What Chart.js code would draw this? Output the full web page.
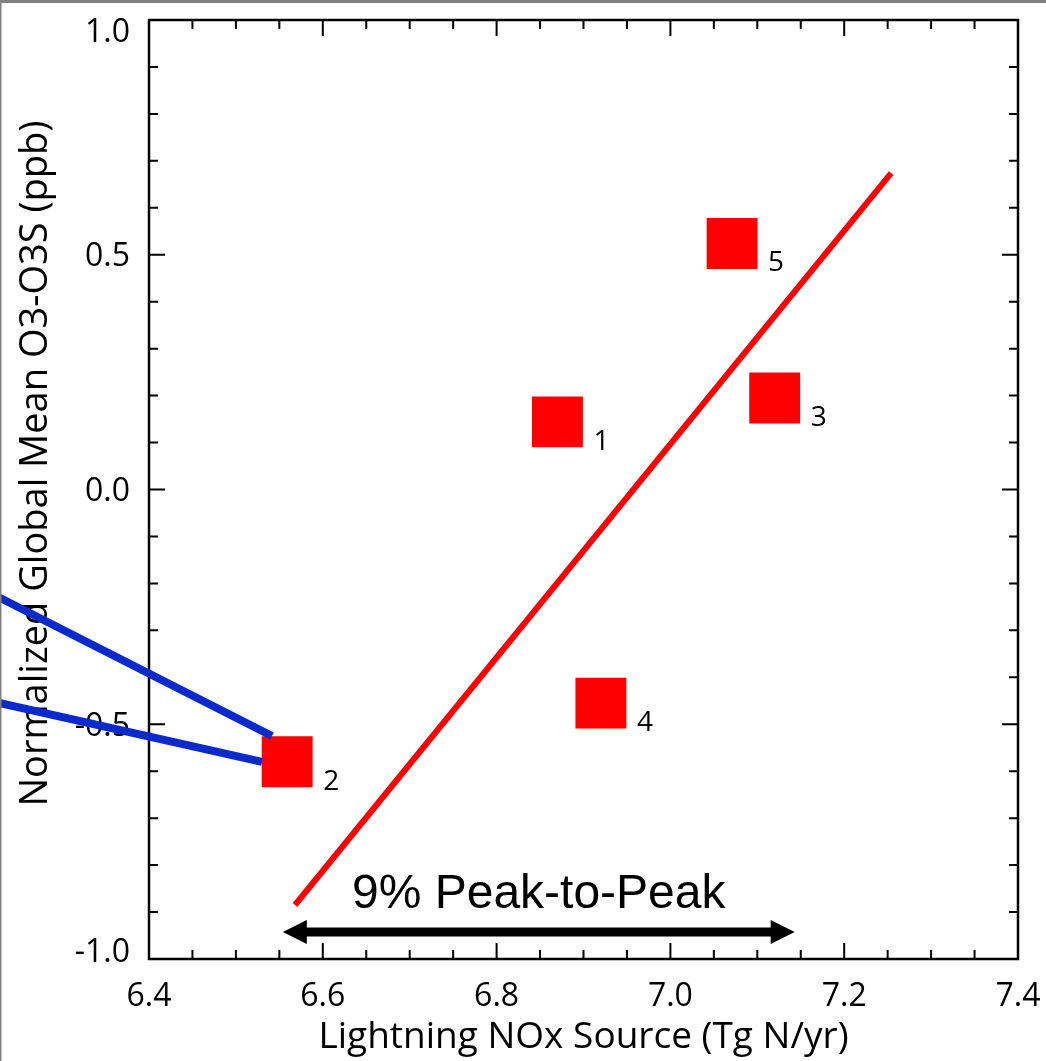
<!DOCTYPE html>
<html>
<head>
<meta charset="utf-8">
<script src="https://cdn.jsdelivr.net/npm/chart.js@4.4.0/dist/chart.umd.min.js"></script>
<style>
html, body { margin: 0; padding: 0; background: #fff; }
canvas { display: block; }
</style>
</head>
<body>
<canvas id="myChart" width="1046" height="1061"></canvas>
<script>
// model runs: lightning NOx source vs normalized global mean O3 difference
var runIds = ['1', '2', '3', '4', '5'];
var lnoxSource = [6.870, 6.559, 7.120, 6.920, 7.071];
var o3Diff = [0.144, -0.580, 0.195, -0.455, 0.524];

// regression line end points
var fitX = [6.568, 7.254];
var fitY = [-0.885, 0.674];

// blue pointer lines coming in from the left
var pointerAX = [6.20, 6.5415];
var pointerAY = [-0.204, -0.525];
var pointerBX = [6.20, 6.530];
var pointerBY = [-0.443, -0.580];

// peak-to-peak span arrow
var spanX = [6.554, 7.143];
var spanY = -0.9425;
var spanText = '9% Peak-to-Peak';

var xTicks = [6.4, 6.6, 6.8, 7.0, 7.2, 7.4];
var yTicks = [-1.0, -0.5, 0.0, 0.5, 1.0];
var xMinorStep = 0.05;
var yMinorStep = 0.1;

var FONT = "'Open Sans', sans-serif";

function pairs(xs, ys) {
    return xs.map(function (x, i) { return { x: x, y: ys[i] }; });
}

function noPadding(s) {
    s.paddingLeft = 0; s.paddingRight = 0; s.paddingTop = 0; s.paddingBottom = 0;
}

var frameAndTicks = {
    id: 'frameAndTicks',
    beforeDatasetsDraw: function (chart) {
        var ctx = chart.ctx, a = chart.chartArea;
        var xs = chart.scales.x, ys = chart.scales.y;
        ctx.save();
        ctx.strokeStyle = '#000';
        ctx.lineWidth = 2;
        var i, v, p, len;
        // x ticks, bottom and top, pointing inward
        for (i = 0; ; i++) {
            v = xs.min + i * xMinorStep;
            if (v > xs.max + 1e-9) break;
            p = xs.getPixelForValue(v);
            len = (i % 4 === 0) ? 16 : 9;
            ctx.beginPath();
            ctx.moveTo(p, a.bottom); ctx.lineTo(p, a.bottom - len);
            ctx.moveTo(p, a.top); ctx.lineTo(p, a.top + len);
            ctx.stroke();
        }
        // y ticks, left and right
        for (i = 0; ; i++) {
            v = ys.min + i * yMinorStep;
            if (v > ys.max + 1e-9) break;
            p = ys.getPixelForValue(v);
            len = (i % 5 === 0) ? 16 : 9;
            ctx.beginPath();
            ctx.moveTo(a.left, p); ctx.lineTo(a.left + len, p);
            ctx.moveTo(a.right, p); ctx.lineTo(a.right - len, p);
            ctx.stroke();
        }
        ctx.lineWidth = 2.5;
        ctx.strokeRect(a.left, a.top, a.right - a.left, a.bottom - a.top);

        // y tick labels, end labels kept inside the axis range
        ctx.fillStyle = '#000';
        ctx.font = '32px ' + FONT;
        ctx.textAlign = 'right';
        ctx.textBaseline = 'alphabetic';
        yTicks.forEach(function (t) {
            var c = ys.getPixelForValue(t);
            c = Math.max(c, a.top + 10);
            c = Math.min(c, a.bottom - 9);
            ctx.fillText(t.toFixed(1), a.left - 19, c + 11.5);
        });

        // y axis title
        ctx.font = '38px ' + FONT;
        ctx.textAlign = 'center';
        ctx.translate(47, (a.top + a.bottom) / 2 - 26);
        ctx.rotate(-Math.PI / 2);
        ctx.fillText('Normalized Global Mean O3-O3S (ppb)', 0, 0);
        ctx.restore();
    },
    afterDatasetsDraw: function (chart) {
        var ctx = chart.ctx;
        var xs = chart.scales.x, ys = chart.scales.y;
        var x0 = xs.getPixelForValue(spanX[0]);
        var x1 = xs.getPixelForValue(spanX[1]);
        var y = ys.getPixelForValue(spanY);
        var head = 24, half = 12;
        ctx.save();
        ctx.fillStyle = '#000';
        ctx.fillRect(x0 + head - 2, y - 4.5, (x1 - x0) - 2 * head + 4, 9);
        ctx.beginPath();
        ctx.moveTo(x0, y); ctx.lineTo(x0 + head, y - half); ctx.lineTo(x0 + head, y + half);
        ctx.closePath(); ctx.fill();
        ctx.beginPath();
        ctx.moveTo(x1, y); ctx.lineTo(x1 - head, y - half); ctx.lineTo(x1 - head, y + half);
        ctx.closePath(); ctx.fill();
        ctx.font = '48px "Liberation Sans", Arial, sans-serif';
        ctx.textAlign = 'center';
        ctx.textBaseline = 'alphabetic';
        ctx.fillText(spanText, (x0 + x1) / 2, y - 24);

        // run numbers next to each square
        var meta = chart.getDatasetMeta(2);
        ctx.font = '28px ' + FONT;
        ctx.textAlign = 'left';
        meta.data.forEach(function (pt, i) {
            ctx.fillText(runIds[i], pt.x + 36, pt.y + 28);
        });
        ctx.restore();
    },
    afterDraw: function (chart) {
        var ctx = chart.ctx;
        ctx.save();
        ctx.fillStyle = '#808080';
        ctx.fillRect(0, 0, chart.width, 3);
        ctx.fillRect(0, 0, 1.5, chart.height);
        ctx.restore();
    }
};

var ctx = document.getElementById('myChart').getContext('2d');
var myChart = new Chart(ctx, {
    type: 'scatter',
    data: {
        datasets: [{
            label: 'pointer A',
            data: pairs(pointerAX, pointerAY),
            showLine: true,
            borderColor: '#0a2acc',
            borderWidth: 8,
            pointRadius: 0,
            clip: false
        }, {
            label: 'pointer B',
            data: pairs(pointerBX, pointerBY),
            showLine: true,
            borderColor: '#0a2acc',
            borderWidth: 8,
            pointRadius: 0,
            clip: false
        }, {
            label: 'runs',
            data: pairs(lnoxSource, o3Diff),
            pointStyle: 'rect',
            pointRadius: 36,
            pointHoverRadius: 36,
            backgroundColor: '#ff0000',
            borderWidth: 0
        }, {
            label: 'fit',
            data: pairs(fitX, fitY),
            showLine: true,
            borderColor: '#ff0000',
            borderWidth: 6,
            pointRadius: 0
        }]
    },
    options: {
        responsive: false,
        animation: false,
        layout: { autoPadding: false, padding: { top: 20, right: 28, left: 0, bottom: 0 } },
        plugins: { legend: { display: false }, tooltip: { enabled: false } },
        scales: {
            x: {
                type: 'linear',
                min: 6.4,
                max: 7.4,
                afterBuildTicks: function (s) { s.ticks = xTicks.map(function (v) { return { value: v }; }); },
                afterFit: function (s) { s.height = 102; noPadding(s); },
                grid: { display: false, drawTicks: false },
                border: { display: false },
                ticks: {
                    color: '#000',
                    font: { family: FONT, size: 32 },
                    padding: 19,
                    maxRotation: 0,
                    autoSkip: false,
                    callback: function (v) { return v.toFixed(1); }
                },
                title: {
                    display: true,
                    text: 'Lightning NOx Source (Tg N/yr)',
                    color: '#000',
                    font: { family: FONT, size: 37 },
                    padding: { top: 0, bottom: 1 }
                }
            },
            y: {
                type: 'linear',
                min: -1,
                max: 1,
                afterFit: function (s) { s.width = 149; noPadding(s); },
                grid: { display: false, drawTicks: false },
                border: { display: false },
                ticks: { display: false, stepSize: 0.5 }
            }
        }
    },
    plugins: [frameAndTicks]
});
</script>
</body>
</html>
